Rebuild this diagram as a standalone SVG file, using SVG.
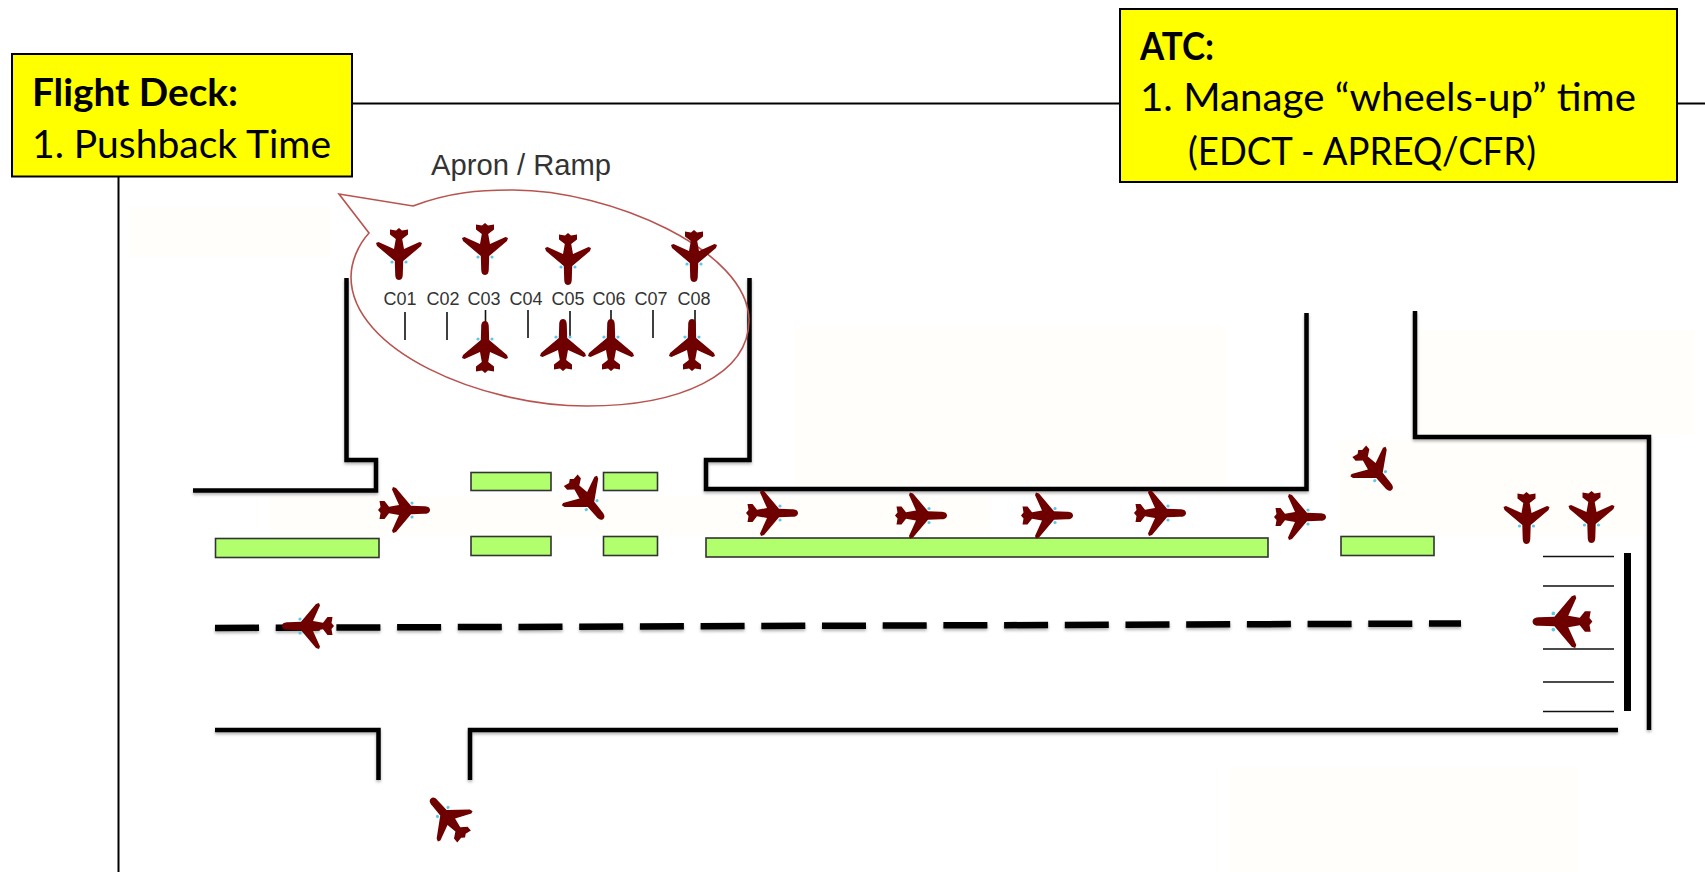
<svg xmlns="http://www.w3.org/2000/svg" width="1705" height="872" viewBox="0 0 1705 872">
<style>
.wall{fill:none;stroke:#000;stroke-width:4.500;filter:url(#soft)}
.thin{fill:none;stroke:#000;stroke-width:2}
.stall{stroke:#111;stroke-width:1.6}
.thr{stroke:#111;stroke-width:1.6}
.island{fill:#b2ff6e;stroke:#333;stroke-width:1.6}
.box{fill:#ff0;stroke:#000;stroke-width:2}
.t{font-family:Lato,"Liberation Sans",sans-serif;font-size:38px;fill:#000}
.b{font-weight:700}
.gate{font-family:"Liberation Sans",Arial,sans-serif;font-size:18px;fill:#333;text-anchor:middle}
.pad{fill:#fffefa}
</style>
<defs>
<filter id="soft" x="0" y="0" width="1705" height="872" filterUnits="userSpaceOnUse" primitiveUnits="userSpaceOnUse"><feDropShadow dx="0" dy="2" stdDeviation="1.5" flood-color="#000" flood-opacity=".3"/></filter>
<g id="plane">
<path fill="#6e0000" d="M0,-26 C3,-26 3.800,-23 3.800,-20 L4.200,-7 L22,8 L23,11 L20.500,12 L5,5 L3.200,15 L9,19.500 L9,24.500 L3,23.500 L0,26 L-3,23.500 L-9,24.500 L-9,19.500 L-3.200,15 L-5,5 L-20.500,12 L-23,11 L-22,8 L-4.200,-7 L-3.800,-20 C-3.800,-23 -3,-26 0,-26 Z"/>
<circle cx="-7" cy="-8" r="1.6" fill="#5cc8e8"/><circle cx="7" cy="-8" r="1.6" fill="#5cc8e8"/>
</g>
</defs>
<rect width="1705" height="872" fill="#fff"/>
<g id="background">
<rect class="pad" x="130" y="207" width="200" height="50"/>
<rect class="pad" x="795" y="327" width="432" height="157"/>
<rect class="pad" x="1415" y="330" width="280" height="105"/>
<rect class="pad" x="1340" y="440" width="305" height="95"/>
<rect class="pad" x="270" y="497" width="720" height="38"/>
<rect class="pad" x="1230" y="767" width="348" height="105"/>
</g>
<g id="connectors">
<path class="thin" d="M353,103.500H1121M1597,103.500H1705M118.500,177V872"/>
<path class="wall" d="M346.500,278V460H376V490.500H193"/>
<path class="wall" d="M749.500,278V460H706V489H1306.500V313"/>
<path class="wall" d="M1415,311V437H1649V730"/>
<path class="wall" d="M215,730H378.500V780M470,780V730H1618"/>
<path d="M1627.500,553V711" stroke="#000" stroke-width="7" fill="none"/>
<path d="M215,628L1461,623.500" stroke="#000" stroke-width="6.500" stroke-dasharray="44 16.700" fill="none" filter="url(#soft)"/>
<path class="thr" d="M1543,556.500H1614M1543,586H1614M1543,649H1614M1543,682H1614M1543,711.500H1614"/>
<path class="stall" d="M405,312V340M447,312V340M485.500,310V330M528,310V338M570,311V338M611,310V330M653,310V338M695,310V338"/>
</g>
<g id="flight-deck"><rect class="box" x="12" y="54" width="340" height="122.500"/>
<text class="t b" x="32" y="106" textLength="206" lengthAdjust="spacingAndGlyphs">Flight Deck:</text><text class="t" x="32" y="158" textLength="299" lengthAdjust="spacingAndGlyphs">1. Pushback Time</text></g>
<g id="atc"><rect class="box" x="1120" y="9" width="557" height="173"/>
<text class="t b" x="1140" y="60" textLength="74" lengthAdjust="spacingAndGlyphs">ATC:</text><text class="t" x="1140" y="111" textLength="496" lengthAdjust="spacingAndGlyphs">1. Manage “wheels-up” time</text><text class="t" x="1188" y="165" textLength="348" lengthAdjust="spacingAndGlyphs">(EDCT - APREQ/CFR)</text></g>
<g id="islands">
<rect class="island" x="471" y="472.500" width="80" height="18"/>
<rect class="island" x="471" y="536.500" width="80" height="19"/>
<rect class="island" x="603.500" y="472.500" width="54" height="18"/>
<rect class="island" x="603.500" y="536.500" width="54" height="19"/>
<rect class="island" x="215.500" y="538.500" width="163.500" height="19"/>
<rect class="island" x="706" y="538" width="562" height="19"/>
<rect class="island" x="1341" y="536.500" width="93" height="19"/>
</g>
<g id="apron">
<text x="431" y="175" font-family="Liberation Sans,Arial,sans-serif" font-size="29.200" fill="#333">Apron / Ramp</text>
<path d="M339,194L413,206C450,192 480,190 513,190C610,190 748,250 749,320C749,375 680,406 587,406C480,406 351,350 351,277C351,262 358,245 369,233Z" fill="none" stroke="#b85450" stroke-width="1.600"/>
<text class="gate" x="400" y="305">C01</text><text class="gate" x="443" y="305">C02</text><text class="gate" x="484" y="305">C03</text><text class="gate" x="526" y="305">C04</text><text class="gate" x="568" y="305">C05</text><text class="gate" x="609" y="305">C06</text><text class="gate" x="651" y="305">C07</text><text class="gate" x="694" y="305">C08</text>
</g>
<g id="planes">
<use href="#plane" transform="translate(399,254) rotate(180)"/>
<use href="#plane" transform="translate(485,249) rotate(180)"/>
<use href="#plane" transform="translate(568,259) rotate(180)"/>
<use href="#plane" transform="translate(694,256) rotate(180)"/>
<use href="#plane" transform="translate(485,347)"/>
<use href="#plane" transform="translate(563,345)"/>
<use href="#plane" transform="translate(611,345)"/>
<use href="#plane" transform="translate(692,345)"/>
<use href="#plane" transform="translate(404,510) rotate(90)"/>
<use href="#plane" transform="translate(586.500,499) rotate(140)"/>
<use href="#plane" transform="translate(772,513) rotate(90)"/>
<use href="#plane" transform="translate(921,515.500) rotate(90)"/>
<use href="#plane" transform="translate(1047,515.500) rotate(90)"/>
<use href="#plane" transform="translate(1160,513) rotate(90)"/>
<use href="#plane" transform="translate(1300,517) rotate(90)"/>
<use href="#plane" transform="translate(1375,470) rotate(140)"/>
<use href="#plane" transform="translate(1526.500,518) rotate(180)"/>
<use href="#plane" transform="translate(1591.500,517) rotate(180)"/>
<use href="#plane" transform="translate(1562.500,621.500) rotate(-90) scale(1.15)"/>
<use href="#plane" transform="translate(308,626) rotate(-90)"/>
<use href="#plane" transform="translate(448,818) rotate(-41)"/>
</g>
</svg>
